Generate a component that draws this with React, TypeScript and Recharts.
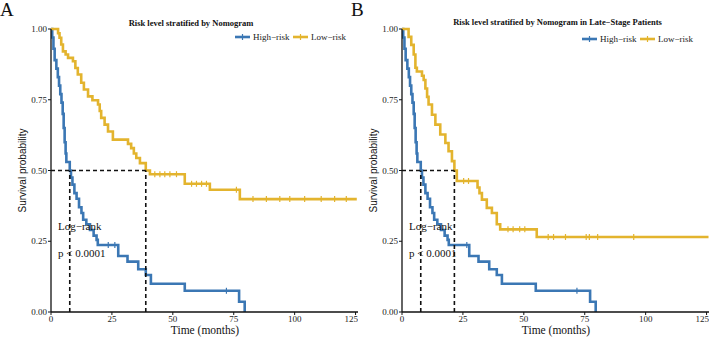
import {
  ComposedChart,
  Line,
  ReferenceLine,
  Scatter,
  XAxis,
  YAxis,
} from "recharts";

// High-risk curve (same shape in both panels)
const highTimes = [0, 0.5, 1.0, 1.5, 2.2, 2.8, 3.3, 3.8, 4.3, 4.8, 5.2, 5.6, 6.0, 6.3, 7.7, 8.2, 8.8, 9.6, 10.5, 11.5, 12.5, 13.2, 14.5, 16.0, 17.5, 18.7, 19.2, 27.6, 31.4, 35.8, 38.9, 41.0, 54.9, 77.2, 79.5];
const highSurv = [1, 0.97, 0.93, 0.89, 0.86, 0.83, 0.8, 0.77, 0.74, 0.7, 0.65, 0.6, 0.56, 0.53, 0.5, 0.475, 0.45, 0.42, 0.4, 0.37, 0.35, 0.326, 0.31, 0.29, 0.27, 0.255, 0.237, 0.198, 0.178, 0.151, 0.131, 0.1, 0.075, 0.036, 0];
const highCensorA = [23.5, 26.2, 72];
const highCensorB = [26.6, 71.8];

// Low-risk, panel A
const lowTimesA = [0, 2.9, 3.5, 4.2, 4.9, 6.0, 7.0, 9.0, 10.0, 11.0, 12.4, 13.5, 15.2, 17.0, 19.3, 20.0, 20.6, 22.0, 23.4, 25.4, 31.6, 32.9, 34.0, 35.0, 36.5, 38.9, 40.6, 54.9, 65.2, 77.5, 125.5];
const lowSurvA = [1, 0.985, 0.969, 0.945, 0.921, 0.91, 0.898, 0.886, 0.862, 0.839, 0.81, 0.786, 0.762, 0.748, 0.733, 0.71, 0.686, 0.662, 0.638, 0.609, 0.594, 0.579, 0.56, 0.544, 0.526, 0.5, 0.487, 0.453, 0.432, 0.399, 0.399];
const lowCensorA = [42.6, 44.7, 46.7, 48.8, 51.5, 57.7, 59.7, 61.8, 63.8, 76.1, 82.9, 88.4, 93.9, 98, 104.1, 110.9, 116.4, 121.2];

// Low-risk, panel B (late-stage)
const lowTimesB = [0, 2.7, 3.8, 4.8, 5.5, 6.1, 8.2, 8.9, 9.6, 10.3, 10.9, 12.3, 13.7, 15.7, 17.8, 19.1, 20.5, 21.5, 22.5, 31.0, 31.8, 32.8, 34.8, 36.9, 38.9, 40.3, 55.3, 125.8];
const lowSurvB = [1, 0.972, 0.944, 0.91, 0.863, 0.85, 0.835, 0.82, 0.79, 0.76, 0.733, 0.697, 0.662, 0.627, 0.597, 0.568, 0.533, 0.5, 0.463, 0.44, 0.42, 0.397, 0.368, 0.35, 0.31, 0.292, 0.265, 0.265];
const lowCensorB = [25.3, 27.3, 43.5, 45.6, 48.3, 50.4, 60, 62.2, 67.1, 75.6, 76.9, 80.3, 95.1];

const xTicks = [0, 25, 50, 75, 100, 125];
const yTicks = [0, 0.25, 0.5, 0.75, 1];

const BLUE = "#3b77b4";
const GOLD = "#e3b42e";
const SERIF = "'Liberation Serif', 'DejaVu Serif', serif";
const SANS = "'Liberation Sans', Arial, sans-serif";

type Row = { t: number; s: number };

const toRows = (t: number[], s: number[]): Row[] =>
  t.map((x, i) => ({ t: x, s: s[i] }));

const survAt = (rows: Row[], time: number) => {
  let v = 1;
  for (const r of rows) if (r.t <= time) v = r.s;
  return v;
};

const median = (rows: Row[]) => rows.find((r) => r.s <= 0.5)!.t;

const censorRows = (rows: Row[], times: number[]) =>
  times.map((t) => ({ t, s: survAt(rows, t) }));

const tickMark = (color: string) => (props: any) => (
  <line
    x1={props.cx}
    x2={props.cx}
    y1={props.cy - 3}
    y2={props.cy + 3}
    stroke={color}
    strokeWidth={1.2}
  />
);

function Panel({
  high,
  low,
  highCensor,
  lowCensor,
}: {
  high: Row[];
  low: Row[];
  highCensor: number[];
  lowCensor: number[];
}) {
  const mHigh = median(high);
  const mLow = median(low);
  const dash = { stroke: "#111", strokeWidth: 1.6, strokeDasharray: "4 3" };
  return (
    <ComposedChart
      width={358}
      height={338}
      margin={{ top: 29, right: 0, bottom: 0, left: 0 }}
    >
      <XAxis
        type="number"
        dataKey="t"
        domain={[0, 126]}
        ticks={xTicks}
        height={26}
        tickSize={3}
        tickMargin={1}
        stroke="#111"
        axisLine={{ stroke: "#111", strokeWidth: 1.3 }}
        tick={{ fontSize: 9, fill: "#222", fontFamily: SERIF }}
        allowDataOverflow
      />
      <YAxis
        type="number"
        dataKey="s"
        domain={[0, 1]}
        ticks={yTicks}
        width={51}
        tickSize={3}
        tickMargin={1}
        stroke="#111"
        axisLine={{ stroke: "#111", strokeWidth: 1.3 }}
        tick={{ fontSize: 9, fill: "#222", fontFamily: SERIF }}
        tickFormatter={(v: number) => v.toFixed(2)}
      />
      <Line
        data={high}
        dataKey="s"
        type="stepAfter"
        stroke={BLUE}
        strokeWidth={2.6}
        dot={false}
        isAnimationActive={false}
      />
      <Line
        data={low}
        dataKey="s"
        type="stepAfter"
        stroke={GOLD}
        strokeWidth={2.6}
        dot={false}
        isAnimationActive={false}
      />
      <Scatter
        data={censorRows(high, highCensor)}
        dataKey="s"
        shape={tickMark(BLUE)}
        isAnimationActive={false}
      />
      <Scatter
        data={censorRows(low, lowCensor)}
        dataKey="s"
        shape={tickMark(GOLD)}
        isAnimationActive={false}
      />
      <ReferenceLine
        segment={[
          { x: 0, y: 0.5 },
          { x: Math.max(mHigh, mLow), y: 0.5 },
        ]}
        {...dash}
      />
      <ReferenceLine
        segment={[
          { x: mHigh, y: 0 },
          { x: mHigh, y: 0.5 },
        ]}
        {...dash}
      />
      <ReferenceLine
        segment={[
          { x: mLow, y: 0 },
          { x: mLow, y: 0.5 },
        ]}
        {...dash}
      />
    </ComposedChart>
  );
}

function Legend({ x, y }: { x: number; y: number }) {
  return (
    <g fontFamily={SERIF} fontSize={9} fill="#222">
      <line x1={x} x2={x + 15} y1={y} y2={y} stroke={BLUE} strokeWidth={2.6} />
      <line x1={x + 7.5} x2={x + 7.5} y1={y - 3} y2={y + 3} stroke={BLUE} strokeWidth={1.2} />
      <text x={x + 18} y={y + 3}>High−risk</text>
      <line x1={x + 58} x2={x + 73} y1={y} y2={y} stroke={GOLD} strokeWidth={2.6} />
      <line x1={x + 65.5} x2={x + 65.5} y1={y - 3} y2={y + 3} stroke={GOLD} strokeWidth={1.2} />
      <text x={x + 76} y={y + 3}>Low−risk</text>
    </g>
  );
}

function Annotations({ ox }: { ox: number }) {
  return (
    <g fontFamily={SERIF} fill="#111">
      <text
        x={ox + 22.5}
        y={170.5}
        fontFamily={SANS}
        fontSize={10}
        textAnchor="middle"
        dominantBaseline="central"
        transform={`rotate(-90 ${ox + 22.5} 170.5)`}
      >
        Survival probability
      </text>
      <text x={ox + 205} y={334} fontSize={11.5} textAnchor="middle">
        Time (months)
      </text>
      <text x={ox + 58} y={230} fontSize={11}>
        Log−rank
      </text>
      <text x={ox + 58} y={257} fontSize={11}>
        p &lt; 0.0001
      </text>
    </g>
  );
}

export default function App() {
  const highRows = toRows(highTimes, highSurv);
  const lowA = toRows(lowTimesA, lowSurvA);
  const lowB = toRows(lowTimesB, lowSurvB);
  return (
    <div
      style={{
        position: "fixed",
        left: 0,
        top: 0,
        width: 709,
        height: 338,
        background: "#fff",
        overflow: "hidden",
      }}
    >
      <div style={{ position: "absolute", left: 0, top: 0 }}>
        <Panel
          high={highRows}
          low={lowA}
          highCensor={highCensorA}
          lowCensor={lowCensorA}
        />
      </div>
      <div style={{ position: "absolute", left: 351, top: 0 }}>
        <Panel
          high={highRows}
          low={lowB}
          highCensor={highCensorB}
          lowCensor={lowCensorB}
        />
      </div>
      <svg
        width={709}
        height={338}
        style={{ position: "absolute", left: 0, top: 0, pointerEvents: "none" }}
      >
        <text x={0} y={16} fontFamily={SERIF} fontSize={19} fill="#111">
          A
        </text>
        <text x={351} y={16} fontFamily={SERIF} fontSize={19} fill="#111">
          B
        </text>
        <text
          x={191}
          y={25.5}
          fontFamily={SERIF}
          fontWeight="bold"
          fontSize={8.5}
          textAnchor="middle"
          fill="#111"
        >
          Risk level stratified by Nomogram
        </text>
        <text
          x={557.5}
          y={24.5}
          fontFamily={SERIF}
          fontWeight="bold"
          fontSize={8.5}
          textAnchor="middle"
          fill="#111"
        >
          Risk level stratified by Nomogram in Late−Stage Patients
        </text>
        <Legend x={235} y={37} />
        <Legend x={582} y={39} />
        <Annotations ox={0} />
        <Annotations ox={351} />
      </svg>
    </div>
  );
}
